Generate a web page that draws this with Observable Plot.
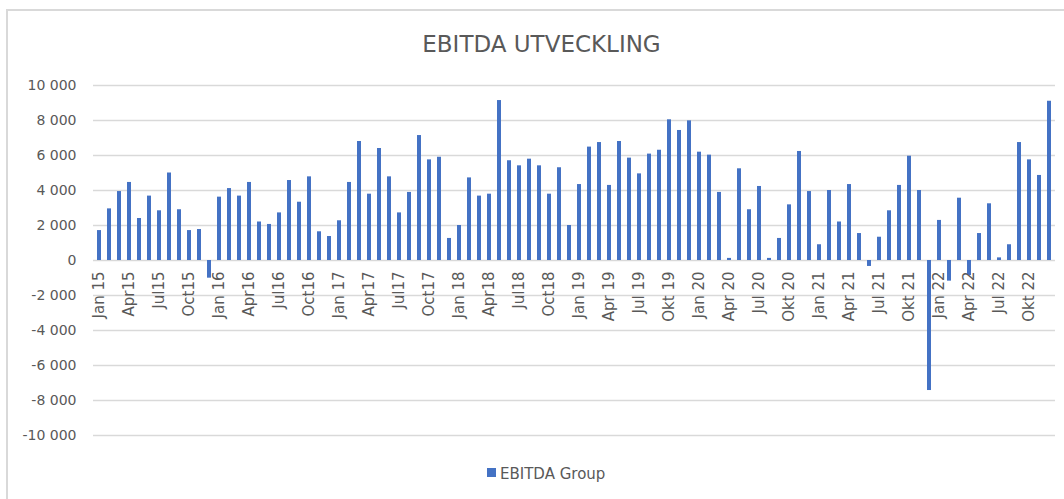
<!DOCTYPE html>
<html><head><meta charset="utf-8">
<script src="https://cdn.jsdelivr.net/npm/d3@7"></script>
<script src="https://cdn.jsdelivr.net/npm/@observablehq/plot@0.6"></script>
<style>
html,body{margin:0;padding:0;background:#fff;overflow:hidden;}
body{width:1064px;height:499px;position:relative;font-family:"DejaVu Sans",sans-serif;color:#595959;}
#frame{position:absolute;left:6px;top:9px;width:1200px;height:700px;border-top:2px solid #d9d9d9;border-left:2px solid #d9d9d9;pointer-events:none;}
#title{height:70px;box-sizing:border-box;padding-top:33px;padding-left:19px;text-align:center;font-size:23px;line-height:23px;white-space:nowrap;}
#chart{height:375px;}
#legend{height:54px;position:relative;}
#legend .sw{position:absolute;left:487px;top:23px;width:9px;height:9px;background:#4472c4;}
#legend .lb{position:absolute;left:500px;top:22px;font-size:15px;line-height:15px;white-space:nowrap;}
</style>
</head><body>
<div id="frame"></div>
<div id="title">EBITDA UTVECKLING</div>
<div id="chart"></div>
<div id="legend"><span class="sw"></span><span class="lb">EBITDA Group</span></div>
<script>
const ebitda2015 = [1710, 2950, 3940, 4460, 2400, 3680, 2840, 5000, 2900, 1710, 1770, -1010];
const ebitda2016 = [3620, 4110, 3680, 4460, 2200, 2060, 2720, 4570, 3330, 4780, 1640, 1370];
const ebitda2017 = [2270, 4460, 6800, 3790, 6400, 4780, 2720, 3890, 7140, 5750, 5900, 1260];
const ebitda2018 = [2000, 4720, 3680, 3790, 9140, 5700, 5410, 5790, 5410, 3790, 5300, 2000];
const ebitda2019 = [4340, 6480, 6740, 4290, 6800, 5850, 4950, 6080, 6300, 8040, 7430, 7980];
const ebitda2020 = [6190, 6020, 3890, 120, 5240, 2900, 4230, 120, 1260, 3180, 6230, 3940];
const ebitda2021 = [900, 4000, 2200, 4340, 1540, -340, 1330, 2840, 4290, 5960, 4000, -7430];
const ebitda2022 = [2290, -1180, 3560, -860, 1540, 3240, 150, 900, 6740, 5750, 4860, 9100];

const years = [2015, 2016, 2017, 2018, 2019, 2020, 2021, 2022];
const tickLabels = [
  "Jan 15", "Apr15", "Jul15", "Oct15",
  "Jan 16", "Apr16", "Jul16", "Oct16",
  "Jan 17", "Apr17", "Jul17", "Oct17",
  "Jan 18", "Apr18", "Jul18", "Oct18",
  "Jan 19", "Apr 19", "Jul 19", "Okt 19",
  "Jan 20", "Apr 20", "Jul 20", "Okt 20",
  "Jan 21", "Apr 21", "Jul 21", "Okt 21",
  "Jan 22", "Apr 22", "Jul 22", "Okt 22"
];
const yTicks = [-10000, -8000, -6000, -4000, -2000, 0, 2000, 4000, 6000, 8000, 10000];

const series = [ebitda2015, ebitda2016, ebitda2017, ebitda2018, ebitda2019, ebitda2020, ebitda2021, ebitda2022];
const data = [];
years.forEach((yr, i) => series[i].forEach((v, m) => data.push({month: `${yr}-${String(m + 1).padStart(2, "0")}`, value: v})));
const monthKeys = data.map(d => d.month);
const tickData = tickLabels.map((label, i) => ({month: monthKeys[i * 3], label, y: 0}));

const fmt = n => (n < 0 ? "-" : "") + d3.format(",")(Math.abs(n)).replace(/,/g, "\u00a0");

const chart = Plot.plot({
  width: 1064,
  height: 375,
  marginTop: 15,
  marginBottom: 10,
  marginLeft: 93,
  marginRight: 9,
  style: {fontFamily: "DejaVu Sans, sans-serif", fontSize: "14px", color: "#595959", background: "transparent"},
  x: {type: "band", domain: monthKeys, paddingInner: 0.58, paddingOuter: 0.29, axis: null},
  y: {domain: [-10000, 10000], ticks: yTicks, tickFormat: fmt, tickSize: 0, tickPadding: 17, label: null},
  marks: [
    Plot.ruleY(yTicks, {stroke: "#d9d9d9", strokeWidth: 1.5}),
    Plot.barY(data, {x: "month", y: "value", fill: "#4472c4"}),
    Plot.text(tickData, {x: "month", y: "y", text: "label", rotate: -90, textAnchor: "end", lineAnchor: "middle", dy: 11, fill: "#595959", fontSize: 15})
  ]
});
document.getElementById("chart").appendChild(chart);
</script>
</body></html>
